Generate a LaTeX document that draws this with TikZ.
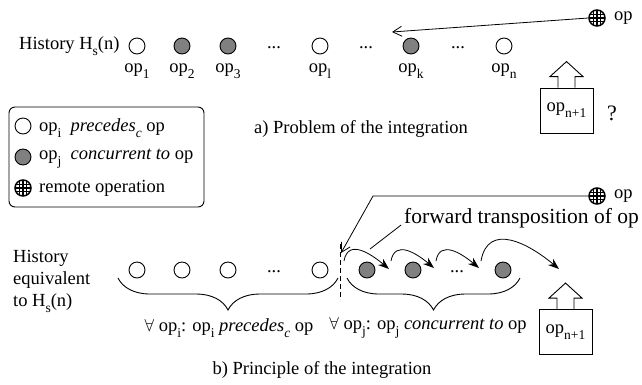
\documentclass[tikz,border=0pt]{standalone}
\usepackage{fontspec}
\setmainfont{Liberation Serif}
\usetikzlibrary{arrows.meta,decorations.pathreplacing}

\tikzset{
  every node/.style={inner sep=0pt,font=\fontsize{18.5}{22}\selectfont},
  precop/.style={circle,draw,line width=0.9pt,minimum size=16pt},
  concop/.style={precop,fill=black!50},
  remoteop/.style={circle,draw,line width=1.5pt,minimum size=16pt,
    path picture={
      \foreach \d in {-3.3,0,3.3}{
        \draw[line width=1.3pt] ([xshift=\d pt]path picture bounding box.north) -- ([xshift=\d pt]path picture bounding box.south);
        \draw[line width=1.3pt] ([yshift=\d pt]path picture bounding box.west) -- ([yshift=\d pt]path picture bounding box.east);
      }}},
  newop/.style={draw,line width=0.9pt,minimum width=53pt,minimum height=45pt},
  recvarrow/.style={line width=0.8pt,-{Straight Barb[length=9pt,width=10pt]}},
  jump/.style={line width=0.8pt,-{Stealth[length=11pt,width=8pt]}},
  brc/.style={decorate,decoration={brace,mirror,amplitude=32pt},line width=0.9pt},
}
% lowered subscript
\newcommand{\sbs}[1]{\raisebox{-0.32em}{\fontsize{13.5}{14}\selectfont #1}}
% hollow arrow on top of a box
\newcommand{\upblock}[1]{\draw[line width=0.9pt] ([xshift=-8.5pt]#1.north) -- ++(0,11) -- ++(-8,0) -- ++(16.5,15) -- ++(16.5,-15) -- ++(-8,0) -- ++(0,-11);}

\begin{document}
\begin{tikzpicture}[x=1pt,y=1pt]
\useasboundingbox (0,0) rectangle (642,-384);

% a) problem of the integration
\node[anchor=west] (hist) at (19,-46) {History H\sbs{s}(n)};
\foreach \x/\s/\k in {137/1/precop,182/2/concop,228/3/concop,320/l/precop,411/k/concop,504/n/precop}{
  \node[\k] (h\s) at (\x,-46) {};
  \node (l\s) at (\x,-71) {op\sbs{\s}};
}
\node (hd1) at (274,-48) {...};
\node (hd2) at (366,-48) {...};
\node (hd3) at (458,-48) {...};

\node[remoteop] (rem) at (597,-18) {};
\node[anchor=west] (reml) at (614,-18) {op};
\coordinate (recv) at (392,-32);
\draw[recvarrow] (rem.west) -- (recv);

\node[newop] (nxt) at (566.5,-110.5) {op\sbs{n+1}};
\upblock{nxt}
\node[font=\fontsize{22}{24}\selectfont] (qm) at (612,-113) {?};
\node (capa) at (361,-129) {a) Problem of the integration};

% legend
\draw[line width=0.9pt,rounded corners=6pt] (9,-107) rectangle (204,-207);
\node[precop] (k1) at (23,-126) {};
\node[anchor=west] (k1t) at (39,-128) {op\sbs{i}\ \ \textit{precedes\sbs{c}} op};
\node[concop] (k2) at (23,-157) {};
\node[anchor=west] (k2t) at (39,-159) {op\sbs{j}\ \ \textit{concurrent to} op};
\node[remoteop] (k3) at (23,-188) {};
\node[anchor=west] (k3t) at (39,-188) {remote operation};

% b) principle of the integration
\node[anchor=west,align=left] (hist2) at (13,-281) {History\\equivalent\\to H\sbs{s}(n)};
\foreach \x/\n/\k in {137/b1/precop,182/b2/precop,228/b3/precop,320/b4/precop,367/c1/concop,413/c2/concop,503/c3/concop}{
  \node[\k] (\n) at (\x,-270) {};
}
\node (bd) at (274,-272) {...};
\node (cd) at (457,-272) {...};

\coordinate (cuttop) at (340,-244);
\coordinate (cutbot) at (340,-300);
\draw[line width=0.9pt,dash pattern=on 5pt off 3pt] (cuttop) -- (cutbot);

\node[remoteop] (rem2) at (597,-196) {};
\node[anchor=west] (rem2l) at (614,-196) {op};
\coordinate (kink) at (373,-196);
\coordinate (cut) at (341,-253);
\draw[recvarrow] (rem2.west) -- (kink) -- (cut);

\node[anchor=west,font=\fontsize{21.5}{24}\selectfont] (fwd) at (404,-218) {forward transposition of op};
\coordinate (fwdptr) at (370,-249);
\draw[line width=0.8pt] ([shift={(-3,3)}]fwd.south west) -- (fwdptr);

\coordinate (s0) at (344,-261); \coordinate (t0) at (389,-269);
\coordinate (s1) at (391,-261); \coordinate (t1) at (434,-268);
\coordinate (s2) at (436,-261); \coordinate (t2) at (479,-268);
\coordinate (s3) at (481,-261); \coordinate (t3) at (559,-269);
\foreach \i in {0,...,3}
  \draw[jump] (s\i) to[out=80,in=140,looseness=1.3] (t\i);

\coordinate (bl0) at (118,-278); \coordinate (bl1) at (338,-278);
\coordinate (br0) at (347,-278); \coordinate (br1) at (520,-278);
\draw[brc] (bl0) -- (bl1);
\draw[brc] (br0) -- (br1);
\node (prec) at (229,-328) {$\forall$ op\sbs{i}: op\sbs{i} \textit{precedes\sbs{c}} op};
\node (conc) at (428,-328) {$\forall$ op\sbs{j}: op\sbs{j} \textit{concurrent to} op};

\node[newop] (nxt2) at (565.5,-332) {op\sbs{n+1}};
\upblock{nxt2}
\node (capb) at (322,-370) {b) Principle of the integration};
\end{tikzpicture}
\end{document}
